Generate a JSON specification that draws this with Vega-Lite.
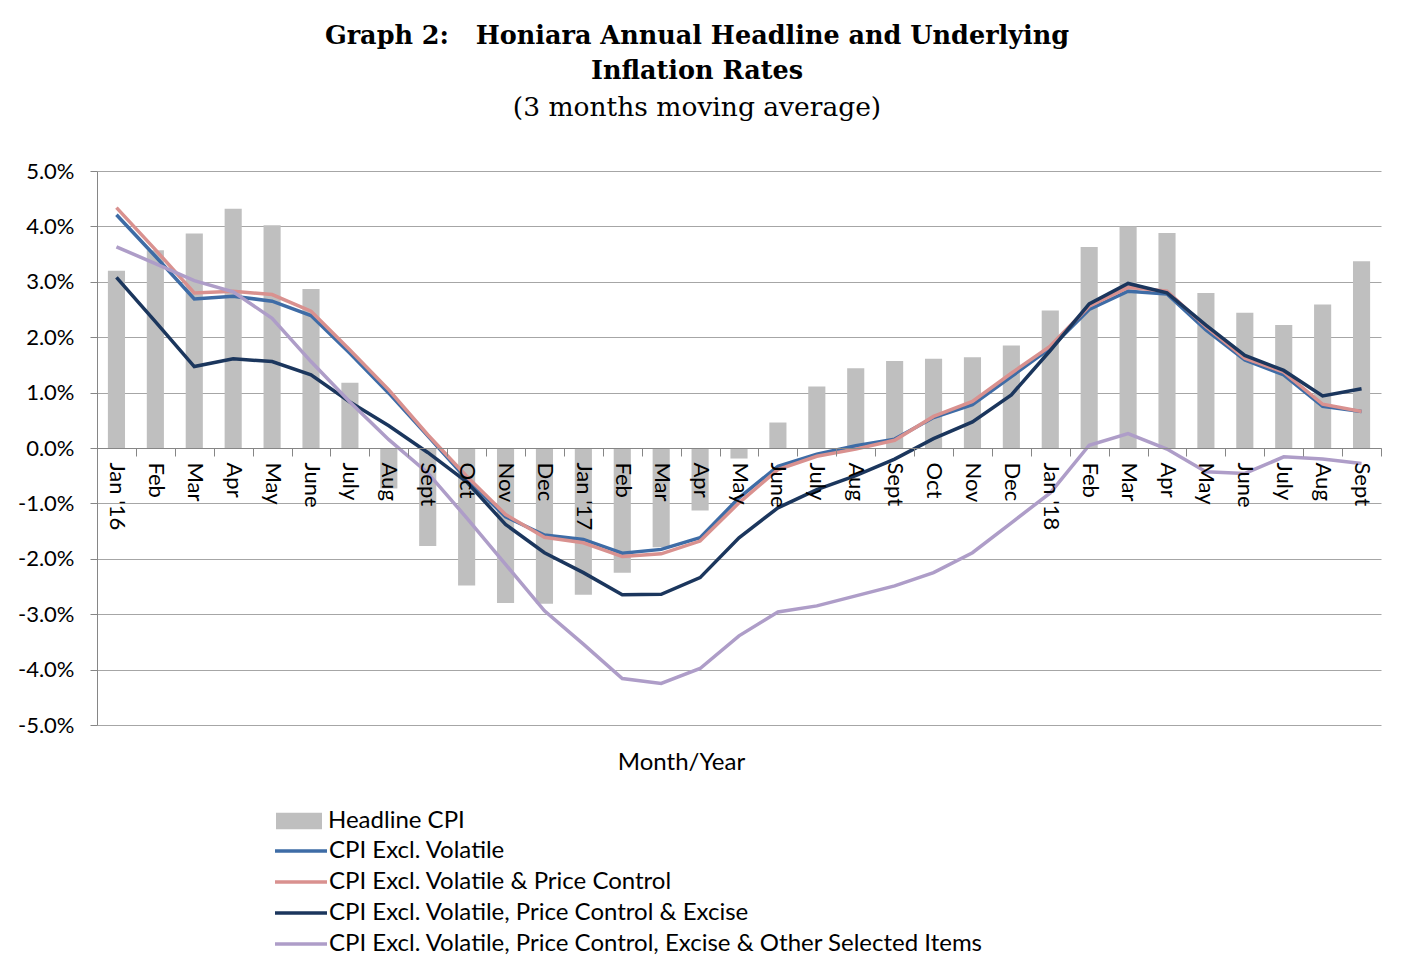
{
  "$schema": "https://vega.github.io/schema/vega-lite/v6.json",
  "width": 1284,
  "height": 554,
  "autosize": {"type": "none"},
  "padding": {"left": 97, "top": 171, "right": 32, "bottom": 243},
  "background": "white",
  "config": {
    "view": {"stroke": null},
    "font": "Lato",
    "axis": {"labelFont": "Lato", "labelColor": "#000000", "titleFont": "Lato", "titleColor": "#000000"},
    "legend": {"labelFont": "Lato", "labelColor": "#000000"}
  },
  "title": {
    "text": ["Graph 2:\u00a0\u00a0\u00a0Honiara Annual Headline and Underlying", "Inflation Rates"],
    "subtitle": "(3 months moving average)",
    "font": "DejaVu Serif",
    "fontSize": 25.5,
    "fontWeight": "bold",
    "color": "#000000",
    "subtitleFont": "DejaVu Serif",
    "subtitleFontSize": 26.5,
    "subtitleFontWeight": "normal",
    "subtitleColor": "#000000",
    "lineHeight": 35,
    "subtitleLineHeight": 35,
    "subtitlePadding": 10,
    "anchor": "middle",
    "frame": "group",
    "dx": -42,
    "offset": 39
  },
  "datasets": {
    "headline": [
      {"m": "Jan 2016", "v": 3.20}, {"m": "Feb 2016", "v": 3.57}, {"m": "Mar 2016", "v": 3.87},
      {"m": "Apr 2016", "v": 4.32}, {"m": "May 2016", "v": 4.02}, {"m": "June 2016", "v": 2.87},
      {"m": "July 2016", "v": 1.18}, {"m": "Aug 2016", "v": -0.73}, {"m": "Sept 2016", "v": -1.77},
      {"m": "Oct 2016", "v": -2.48}, {"m": "Nov 2016", "v": -2.80}, {"m": "Dec 2016", "v": -2.81},
      {"m": "Jan 2017", "v": -2.65}, {"m": "Feb 2017", "v": -2.25}, {"m": "Mar 2017", "v": -1.79},
      {"m": "Apr 2017", "v": -1.13}, {"m": "May 2017", "v": -0.19}, {"m": "June 2017", "v": 0.46},
      {"m": "July 2017", "v": 1.11}, {"m": "Aug 2017", "v": 1.44}, {"m": "Sept 2017", "v": 1.57},
      {"m": "Oct 2017", "v": 1.61}, {"m": "Nov 2017", "v": 1.64}, {"m": "Dec 2017", "v": 1.85},
      {"m": "Jan 2018", "v": 2.48}, {"m": "Feb 2018", "v": 3.63}, {"m": "Mar 2018", "v": 4.00},
      {"m": "Apr 2018", "v": 3.88}, {"m": "May 2018", "v": 2.80}, {"m": "June 2018", "v": 2.44},
      {"m": "July 2018", "v": 2.22}, {"m": "Aug 2018", "v": 2.59}, {"m": "Sept 2018", "v": 3.37}
    ],
    "lines": [
      {"m": "Jan 2016", "s": "CPI Excl. Volatile", "v": 4.21},
      {"m": "Feb 2016", "s": "CPI Excl. Volatile", "v": 3.46},
      {"m": "Mar 2016", "s": "CPI Excl. Volatile", "v": 2.69},
      {"m": "Apr 2016", "s": "CPI Excl. Volatile", "v": 2.74},
      {"m": "May 2016", "s": "CPI Excl. Volatile", "v": 2.65},
      {"m": "June 2016", "s": "CPI Excl. Volatile", "v": 2.39},
      {"m": "July 2016", "s": "CPI Excl. Volatile", "v": 1.71},
      {"m": "Aug 2016", "s": "CPI Excl. Volatile", "v": 0.99},
      {"m": "Sept 2016", "s": "CPI Excl. Volatile", "v": 0.22},
      {"m": "Oct 2016", "s": "CPI Excl. Volatile", "v": -0.56},
      {"m": "Nov 2016", "s": "CPI Excl. Volatile", "v": -1.24},
      {"m": "Dec 2016", "s": "CPI Excl. Volatile", "v": -1.57},
      {"m": "Jan 2017", "s": "CPI Excl. Volatile", "v": -1.65},
      {"m": "Feb 2017", "s": "CPI Excl. Volatile", "v": -1.90},
      {"m": "Mar 2017", "s": "CPI Excl. Volatile", "v": -1.83},
      {"m": "Apr 2017", "s": "CPI Excl. Volatile", "v": -1.62},
      {"m": "May 2017", "s": "CPI Excl. Volatile", "v": -0.90},
      {"m": "June 2017", "s": "CPI Excl. Volatile", "v": -0.33},
      {"m": "July 2017", "s": "CPI Excl. Volatile", "v": -0.11},
      {"m": "Aug 2017", "s": "CPI Excl. Volatile", "v": 0.04},
      {"m": "Sept 2017", "s": "CPI Excl. Volatile", "v": 0.16},
      {"m": "Oct 2017", "s": "CPI Excl. Volatile", "v": 0.55},
      {"m": "Nov 2017", "s": "CPI Excl. Volatile", "v": 0.78},
      {"m": "Dec 2017", "s": "CPI Excl. Volatile", "v": 1.29},
      {"m": "Jan 2018", "s": "CPI Excl. Volatile", "v": 1.80},
      {"m": "Feb 2018", "s": "CPI Excl. Volatile", "v": 2.50},
      {"m": "Mar 2018", "s": "CPI Excl. Volatile", "v": 2.83},
      {"m": "Apr 2018", "s": "CPI Excl. Volatile", "v": 2.78},
      {"m": "May 2018", "s": "CPI Excl. Volatile", "v": 2.13},
      {"m": "June 2018", "s": "CPI Excl. Volatile", "v": 1.59},
      {"m": "July 2018", "s": "CPI Excl. Volatile", "v": 1.32},
      {"m": "Aug 2018", "s": "CPI Excl. Volatile", "v": 0.75},
      {"m": "Sept 2018", "s": "CPI Excl. Volatile", "v": 0.66},
      {"m": "Jan 2016", "s": "CPI Excl. Volatile & Price Control", "v": 4.34},
      {"m": "Feb 2016", "s": "CPI Excl. Volatile & Price Control", "v": 3.58},
      {"m": "Mar 2016", "s": "CPI Excl. Volatile & Price Control", "v": 2.80},
      {"m": "Apr 2016", "s": "CPI Excl. Volatile & Price Control", "v": 2.83},
      {"m": "May 2016", "s": "CPI Excl. Volatile & Price Control", "v": 2.77},
      {"m": "June 2016", "s": "CPI Excl. Volatile & Price Control", "v": 2.47},
      {"m": "July 2016", "s": "CPI Excl. Volatile & Price Control", "v": 1.77},
      {"m": "Aug 2016", "s": "CPI Excl. Volatile & Price Control", "v": 1.05},
      {"m": "Sept 2016", "s": "CPI Excl. Volatile & Price Control", "v": 0.24},
      {"m": "Oct 2016", "s": "CPI Excl. Volatile & Price Control", "v": -0.51},
      {"m": "Nov 2016", "s": "CPI Excl. Volatile & Price Control", "v": -1.20},
      {"m": "Dec 2016", "s": "CPI Excl. Volatile & Price Control", "v": -1.61},
      {"m": "Jan 2017", "s": "CPI Excl. Volatile & Price Control", "v": -1.71},
      {"m": "Feb 2017", "s": "CPI Excl. Volatile & Price Control", "v": -1.96},
      {"m": "Mar 2017", "s": "CPI Excl. Volatile & Price Control", "v": -1.91},
      {"m": "Apr 2017", "s": "CPI Excl. Volatile & Price Control", "v": -1.68},
      {"m": "May 2017", "s": "CPI Excl. Volatile & Price Control", "v": -0.99},
      {"m": "June 2017", "s": "CPI Excl. Volatile & Price Control", "v": -0.39},
      {"m": "July 2017", "s": "CPI Excl. Volatile & Price Control", "v": -0.15},
      {"m": "Aug 2017", "s": "CPI Excl. Volatile & Price Control", "v": -0.02},
      {"m": "Sept 2017", "s": "CPI Excl. Volatile & Price Control", "v": 0.14},
      {"m": "Oct 2017", "s": "CPI Excl. Volatile & Price Control", "v": 0.57},
      {"m": "Nov 2017", "s": "CPI Excl. Volatile & Price Control", "v": 0.84},
      {"m": "Dec 2017", "s": "CPI Excl. Volatile & Price Control", "v": 1.35},
      {"m": "Jan 2018", "s": "CPI Excl. Volatile & Price Control", "v": 1.84},
      {"m": "Feb 2018", "s": "CPI Excl. Volatile & Price Control", "v": 2.56},
      {"m": "Mar 2018", "s": "CPI Excl. Volatile & Price Control", "v": 2.90},
      {"m": "Apr 2018", "s": "CPI Excl. Volatile & Price Control", "v": 2.83},
      {"m": "May 2018", "s": "CPI Excl. Volatile & Price Control", "v": 2.19},
      {"m": "June 2018", "s": "CPI Excl. Volatile & Price Control", "v": 1.62},
      {"m": "July 2018", "s": "CPI Excl. Volatile & Price Control", "v": 1.37},
      {"m": "Aug 2018", "s": "CPI Excl. Volatile & Price Control", "v": 0.79},
      {"m": "Sept 2018", "s": "CPI Excl. Volatile & Price Control", "v": 0.66},
      {"m": "Jan 2016", "s": "CPI Excl. Volatile, Price Control & Excise", "v": 3.08},
      {"m": "Feb 2016", "s": "CPI Excl. Volatile, Price Control & Excise", "v": 2.28},
      {"m": "Mar 2016", "s": "CPI Excl. Volatile, Price Control & Excise", "v": 1.47},
      {"m": "Apr 2016", "s": "CPI Excl. Volatile, Price Control & Excise", "v": 1.61},
      {"m": "May 2016", "s": "CPI Excl. Volatile, Price Control & Excise", "v": 1.56},
      {"m": "June 2016", "s": "CPI Excl. Volatile, Price Control & Excise", "v": 1.32},
      {"m": "July 2016", "s": "CPI Excl. Volatile, Price Control & Excise", "v": 0.83},
      {"m": "Aug 2016", "s": "CPI Excl. Volatile, Price Control & Excise", "v": 0.40},
      {"m": "Sept 2016", "s": "CPI Excl. Volatile, Price Control & Excise", "v": -0.08},
      {"m": "Oct 2016", "s": "CPI Excl. Volatile, Price Control & Excise", "v": -0.61},
      {"m": "Nov 2016", "s": "CPI Excl. Volatile, Price Control & Excise", "v": -1.38},
      {"m": "Dec 2016", "s": "CPI Excl. Volatile, Price Control & Excise", "v": -1.89},
      {"m": "Jan 2017", "s": "CPI Excl. Volatile, Price Control & Excise", "v": -2.25},
      {"m": "Feb 2017", "s": "CPI Excl. Volatile, Price Control & Excise", "v": -2.65},
      {"m": "Mar 2017", "s": "CPI Excl. Volatile, Price Control & Excise", "v": -2.64},
      {"m": "Apr 2017", "s": "CPI Excl. Volatile, Price Control & Excise", "v": -2.34},
      {"m": "May 2017", "s": "CPI Excl. Volatile, Price Control & Excise", "v": -1.62},
      {"m": "June 2017", "s": "CPI Excl. Volatile, Price Control & Excise", "v": -1.08},
      {"m": "July 2017", "s": "CPI Excl. Volatile, Price Control & Excise", "v": -0.75},
      {"m": "Aug 2017", "s": "CPI Excl. Volatile, Price Control & Excise", "v": -0.50},
      {"m": "Sept 2017", "s": "CPI Excl. Volatile, Price Control & Excise", "v": -0.20},
      {"m": "Oct 2017", "s": "CPI Excl. Volatile, Price Control & Excise", "v": 0.17},
      {"m": "Nov 2017", "s": "CPI Excl. Volatile, Price Control & Excise", "v": 0.47},
      {"m": "Dec 2017", "s": "CPI Excl. Volatile, Price Control & Excise", "v": 0.96},
      {"m": "Jan 2018", "s": "CPI Excl. Volatile, Price Control & Excise", "v": 1.76},
      {"m": "Feb 2018", "s": "CPI Excl. Volatile, Price Control & Excise", "v": 2.60},
      {"m": "Mar 2018", "s": "CPI Excl. Volatile, Price Control & Excise", "v": 2.97},
      {"m": "Apr 2018", "s": "CPI Excl. Volatile, Price Control & Excise", "v": 2.80},
      {"m": "May 2018", "s": "CPI Excl. Volatile, Price Control & Excise", "v": 2.22},
      {"m": "June 2018", "s": "CPI Excl. Volatile, Price Control & Excise", "v": 1.67},
      {"m": "July 2018", "s": "CPI Excl. Volatile, Price Control & Excise", "v": 1.40},
      {"m": "Aug 2018", "s": "CPI Excl. Volatile, Price Control & Excise", "v": 0.94},
      {"m": "Sept 2018", "s": "CPI Excl. Volatile, Price Control & Excise", "v": 1.07},
      {"m": "Jan 2016", "s": "CPI Excl. Volatile, Price Control, Excise & Other Selected Items", "v": 3.63},
      {"m": "Feb 2016", "s": "CPI Excl. Volatile, Price Control, Excise & Other Selected Items", "v": 3.33},
      {"m": "Mar 2016", "s": "CPI Excl. Volatile, Price Control, Excise & Other Selected Items", "v": 3.02},
      {"m": "Apr 2016", "s": "CPI Excl. Volatile, Price Control, Excise & Other Selected Items", "v": 2.82},
      {"m": "May 2016", "s": "CPI Excl. Volatile, Price Control, Excise & Other Selected Items", "v": 2.34},
      {"m": "June 2016", "s": "CPI Excl. Volatile, Price Control, Excise & Other Selected Items", "v": 1.56},
      {"m": "July 2016", "s": "CPI Excl. Volatile, Price Control, Excise & Other Selected Items", "v": 0.83},
      {"m": "Aug 2016", "s": "CPI Excl. Volatile, Price Control, Excise & Other Selected Items", "v": 0.15},
      {"m": "Sept 2016", "s": "CPI Excl. Volatile, Price Control, Excise & Other Selected Items", "v": -0.45},
      {"m": "Oct 2016", "s": "CPI Excl. Volatile, Price Control, Excise & Other Selected Items", "v": -1.26},
      {"m": "Nov 2016", "s": "CPI Excl. Volatile, Price Control, Excise & Other Selected Items", "v": -2.10},
      {"m": "Dec 2016", "s": "CPI Excl. Volatile, Price Control, Excise & Other Selected Items", "v": -2.94},
      {"m": "Jan 2017", "s": "CPI Excl. Volatile, Price Control, Excise & Other Selected Items", "v": -3.54},
      {"m": "Feb 2017", "s": "CPI Excl. Volatile, Price Control, Excise & Other Selected Items", "v": -4.16},
      {"m": "Mar 2017", "s": "CPI Excl. Volatile, Price Control, Excise & Other Selected Items", "v": -4.25},
      {"m": "Apr 2017", "s": "CPI Excl. Volatile, Price Control, Excise & Other Selected Items", "v": -3.98},
      {"m": "May 2017", "s": "CPI Excl. Volatile, Price Control, Excise & Other Selected Items", "v": -3.39},
      {"m": "June 2017", "s": "CPI Excl. Volatile, Price Control, Excise & Other Selected Items", "v": -2.96},
      {"m": "July 2017", "s": "CPI Excl. Volatile, Price Control, Excise & Other Selected Items", "v": -2.85},
      {"m": "Aug 2017", "s": "CPI Excl. Volatile, Price Control, Excise & Other Selected Items", "v": -2.67},
      {"m": "Sept 2017", "s": "CPI Excl. Volatile, Price Control, Excise & Other Selected Items", "v": -2.49},
      {"m": "Oct 2017", "s": "CPI Excl. Volatile, Price Control, Excise & Other Selected Items", "v": -2.25},
      {"m": "Nov 2017", "s": "CPI Excl. Volatile, Price Control, Excise & Other Selected Items", "v": -1.89},
      {"m": "Dec 2017", "s": "CPI Excl. Volatile, Price Control, Excise & Other Selected Items", "v": -1.35},
      {"m": "Jan 2018", "s": "CPI Excl. Volatile, Price Control, Excise & Other Selected Items", "v": -0.81},
      {"m": "Feb 2018", "s": "CPI Excl. Volatile, Price Control, Excise & Other Selected Items", "v": 0.05},
      {"m": "Mar 2018", "s": "CPI Excl. Volatile, Price Control, Excise & Other Selected Items", "v": 0.26},
      {"m": "Apr 2018", "s": "CPI Excl. Volatile, Price Control, Excise & Other Selected Items", "v": -0.02},
      {"m": "May 2018", "s": "CPI Excl. Volatile, Price Control, Excise & Other Selected Items", "v": -0.43},
      {"m": "June 2018", "s": "CPI Excl. Volatile, Price Control, Excise & Other Selected Items", "v": -0.46},
      {"m": "July 2018", "s": "CPI Excl. Volatile, Price Control, Excise & Other Selected Items", "v": -0.16},
      {"m": "Aug 2018", "s": "CPI Excl. Volatile, Price Control, Excise & Other Selected Items", "v": -0.20},
      {"m": "Sept 2018", "s": "CPI Excl. Volatile, Price Control, Excise & Other Selected Items", "v": -0.28}
    ]
  },
  "encoding": {
    "x": {
      "field": "m",
      "type": "ordinal",
      "scale": {
        "domain": ["Jan 2016", "Feb 2016", "Mar 2016", "Apr 2016", "May 2016", "June 2016", "July 2016", "Aug 2016", "Sept 2016", "Oct 2016", "Nov 2016", "Dec 2016", "Jan 2017", "Feb 2017", "Mar 2017", "Apr 2017", "May 2017", "June 2017", "July 2017", "Aug 2017", "Sept 2017", "Oct 2017", "Nov 2017", "Dec 2017", "Jan 2018", "Feb 2018", "Mar 2018", "Apr 2018", "May 2018", "June 2018", "July 2018", "Aug 2018", "Sept 2018"],
        "paddingInner": 0,
        "paddingOuter": 0
      },
      "axis": {
        "orient": "bottom",
        "offset": -277,
        "zindex": 1,
        "tickBand": "extent",
        "domainColor": "#868686",
        "tickColor": "#868686",
        "tickSize": 8,
        "labelAngle": 90,
        "labelAlign": "left",
        "labelBaseline": "middle",
        "labelPadding": 6,
        "labelFontSize": 22,
        "labelOverlap": false,
        "labelExpr": "indexof(datum.label, 'Jan') == 0 ? \"Jan '\" + substring(datum.label, 6, 8) : split(datum.label, ' ')[0]",
        "grid": false,
        "title": "Month/Year",
        "titleFontSize": 24,
        "titleFontWeight": "normal",
        "titleX": 584,
        "titleY": 314,
        "titleAlign": "center",
        "titleBaseline": "middle",
        "titleAngle": 0
      }
    },
    "y": {
      "field": "v",
      "type": "quantitative",
      "scale": {"domain": [-5, 5], "nice": false, "zero": false},
      "axis": {
        "values": [-5, -4, -3, -2, -1, 0, 1, 2, 3, 4, 5],
        "labelExpr": "(datum.value < 0 ? '-' : '') + format(abs(datum.value), '.1f') + '%'",
        "labelFontSize": 22,
        "labelPadding": 16,
        "tickSize": 7,
        "tickColor": "#868686",
        "domainColor": "#868686",
        "grid": true,
        "gridColor": "#A6A6A6",
        "gridWidth": 1,
        "title": null
      }
    }
  },
  "layer": [
    {
      "data": {"name": "headline"},
      "mark": {"type": "bar", "width": {"band": 0.44}},
      "encoding": {
        "fill": {
          "datum": "Headline CPI",
          "type": "nominal",
          "scale": {"domain": ["Headline CPI"], "range": ["#BFBFBF"]},
          "legend": {
            "orient": "none",
            "legendX": 179,
            "legendY": 627,
            "title": null,
            "symbolType": "M-1,-0.36L1,-0.36L1,0.36L-1,0.36Z",
            "symbolSize": 2116,
            "symbolStrokeWidth": 0,
            "labelFontSize": 24,
            "labelOffset": 6
          }
        }
      }
    },
    {
      "data": {"name": "lines"},
      "mark": {"type": "line"},
      "encoding": {
        "stroke": {
          "field": "s",
          "type": "nominal",
          "scale": {
            "domain": ["CPI Excl. Volatile", "CPI Excl. Volatile & Price Control", "CPI Excl. Volatile, Price Control & Excise", "CPI Excl. Volatile, Price Control, Excise & Other Selected Items"],
            "range": ["#3E6CA6", "#D9918F", "#1B365D", "#AE9DC8"]
          },
          "legend": {
            "orient": "none",
            "legendX": 189,
            "legendY": 665,
            "title": null,
            "symbolType": "M-2,0L2,0",
            "symbolSize": 676,
            "symbolStrokeWidth": 3.5,
            "symbolFillColor": "transparent",
            "labelFontSize": 24,
            "labelOffset": 13,
            "rowPadding": 4,
            "labelLimit": 900
          }
        },
        "strokeWidth": {
          "field": "s",
          "type": "nominal",
          "scale": {
            "domain": ["CPI Excl. Volatile", "CPI Excl. Volatile & Price Control", "CPI Excl. Volatile, Price Control & Excise", "CPI Excl. Volatile, Price Control, Excise & Other Selected Items"],
            "range": [3.5, 3.5, 2.75, 3.5]
          },
          "legend": null
        }
      }
    }
  ]
}
